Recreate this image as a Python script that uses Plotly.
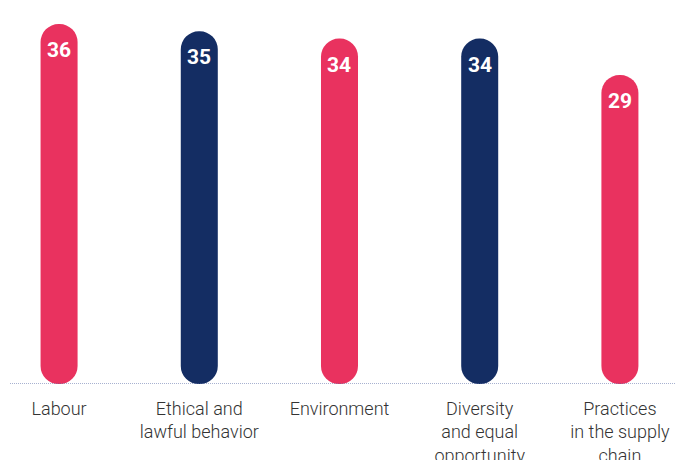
import plotly.graph_objects as go

categories = ["Labour", "Ethical and<br>lawful behavior", "Environment",
              "Diversity<br>and equal<br>opportunity", "Practices<br>in the supply<br>chain"]
values = [36, 35, 34, 34, 29]
colors = ["#E9325F", "#142D63", "#E9325F", "#142D63", "#E9325F"]

BASE = -13.4
x_idx = list(range(len(categories)))

fig = go.Figure()
fig.add_trace(go.Bar(
    x=x_idx, y=[v - BASE for v in values], base=BASE,
    marker=dict(color=colors, cornerradius="50%", line=dict(width=0)),
    width=0.264,
    hoverinfo="skip",
))

for i, v in zip(x_idx, values):
    fig.add_annotation(x=i, y=v, yref="y", xref="x", text=str(v), showarrow=False,
                       yanchor="middle", yshift=-26,
                       font=dict(color="white", size=21, family="Roboto", weight="bold"))

fig.add_shape(type="line", xref="paper", x0=0, x1=1, yref="y", y0=BASE, y1=BASE,
              line=dict(color="#4F63A0", width=1, dash="1px,1px"))

fig.update_layout(
    width=676, height=460,
    margin=dict(l=10, r=0, t=0, b=76),
    plot_bgcolor="white", paper_bgcolor="white",
    showlegend=False,
    xaxis=dict(range=[-0.35, 4.4], tickvals=x_idx, ticktext=categories,
               showgrid=False, zeroline=False, showline=False, ticks="",
               ticklabelstandoff=12, automargin=False, fixedrange=True,
               tickfont=dict(family="Roboto", size=18, color="#333333", weight=300)),
    yaxis=dict(range=[BASE, 39.3], visible=False, fixedrange=True),
)

fig.write_html("out.html", config={"displayModeBar": False},
               post_script="document.body.style.margin='0';")
